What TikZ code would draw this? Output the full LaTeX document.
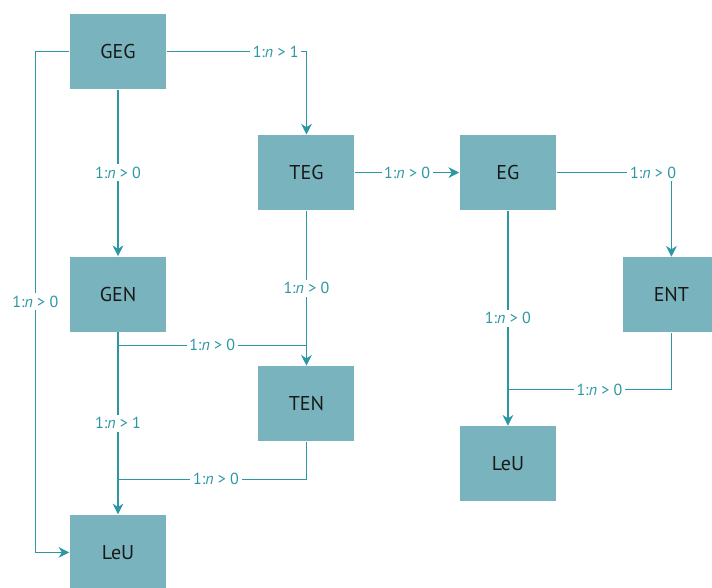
\documentclass[tikz,border=0pt]{standalone}
\usepackage{fontspec}
\setmainfont{PT Sans}
\usetikzlibrary{arrows.meta, positioning, calc}

\definecolor{boxfill}{HTML}{79B3BD}
\definecolor{linecol}{HTML}{2B97A3}

\begin{document}
\begin{tikzpicture}[
        x=1pt, y=1pt,
        node distance=40pt and 40pt,
        box/.style={fill=boxfill, minimum width=72pt, minimum height=56pt, inner sep=0pt,
                    text=black!90, font=\fontsize{15}{18}\selectfont},
        lbl/.style={fill=white, text=linecol, inner sep=2pt, font=\fontsize{12}{14}\selectfont},
        color=linecol,
        line width=1.1pt,
        >={Stealth[length=8pt,width=8pt,inset=2.5pt]} % sharp arrowheads
    ]
        \useasboundingbox (0,0) rectangle (534,-440.25);

        % Left column
        \node[box] (geg) at (88.5,-38.6) {GEG};
        \node[box] (gen)  [below=125pt of geg]   {GEN};
        \node[box] (leu1) [below=136.5pt of gen] {LeU};

        % Middle column
        \node[box] (teg) [below right=33.75pt and 68.25pt of geg] {TEG};
        \node[box] (ten) [below=116.25pt of teg] {TEN};

        % Right part
        \node[box] (eg)   [right=78pt of teg]                    {EG};
        \node[box] (ent)  [below right=34.5pt and 49.5pt of eg]  {ENT};
        \node[box] (leu2) [below=161.25pt of eg]                 {LeU};

        % Junction points on the vertical lines
        \coordinate (jgen) at ($(gen.south)+(0,-9.75pt)$);
        \coordinate (jleu1) at ($(leu1.north)+(0,26.25pt)$);
        \coordinate (jleu2) at ($(leu2.north)+(0,27pt)$);

        % Arrows out of GEG
        \draw[->] (geg.east) -| node[lbl, pos=0.39] {1:\textit{n} > 1} (teg.north);
        \draw[->] (geg.west) -- ++(-25.5pt,0) |- node[lbl, pos=0.25] {1:\textit{n} > 0} (leu1.west);
        \draw[->] (geg) -- node[lbl] {1:\textit{n} > 0} (gen);

        % Middle and right arrows
        \draw[->] (teg) -- node[lbl] {1:\textit{n} > 0} (eg);
        \draw[->] (teg) -- node[lbl] {1:\textit{n} > 0} (ten);
        \draw[->] (eg.east) -| node[lbl, pos=0.42] {1:\textit{n} > 0} (ent.north);
        \draw[->] (eg) -- node[lbl] {1:\textit{n} > 0} (leu2);
        \draw (ent.south) |- node[lbl, pos=0.72] {1:\textit{n} > 0} (jleu2);

        % Lower left arrows
        \draw[->] (gen) -- node[lbl] {1:\textit{n} > 1} (leu1);
        \draw (jgen) -- node[lbl] {1:\textit{n} > 0} (jgen -| teg.south);
        \draw (ten.south) |- node[lbl, pos=0.74] {1:\textit{n} > 0} (jleu1);

\end{tikzpicture}
\end{document}
